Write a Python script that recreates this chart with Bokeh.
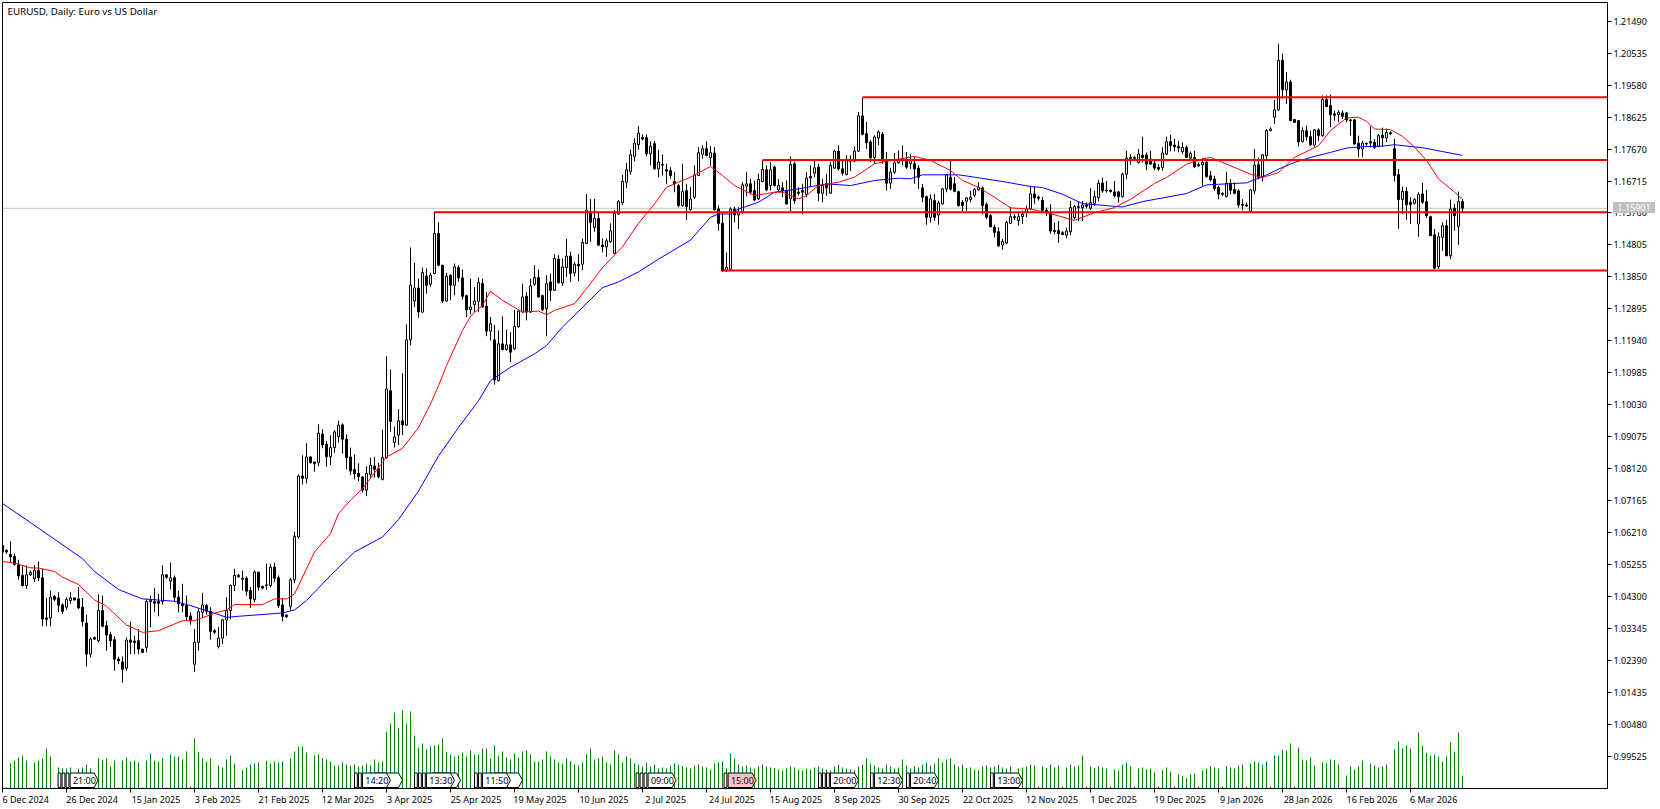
from bokeh.plotting import figure
from bokeh.layouts import column
from bokeh.models import (Div, FixedTicker, Label, LinearAxis,
                          PrintfTickFormatter, Range1d)
from bokeh.core.properties import value
from bokeh.embed import file_html
from bokeh.resources import INLINE

FONT = "Noto Sans"

# ---- data -----------------------------------------------------------------
direction = ("BBBBBBWWWB" "BBWBBBWWBB" "BBWBWBBBBB" "BWBBBBWWBB" "WBWBBBBBWW" "WBBBWWWWWB"
             "BBBWBBBWBB" "BBWWWBWBBW" "BBWWWBBBBB" "BWWBBWWBWW" "BWWWBWBWWB" "BWBWBBBWWW"
             "BBWBWBWBWW" "WBWWBBWBWB" "WWBWBWWBWB" "BWWWWWWWWW" "BBWBWBBBBB" "WBWWWWBWBB"
             "BWWBWWWBBW" "WBWBWBBWBB" "BWBWBWBWWB" "BWWWWBBBWW" "BBWWWWBWBB" "BBWBWWWBBB"
             "BWWWWBBBBB" "WWWBWWWWBB" "BBBBBBWWWW" "WBWWWBBBBB" "WWBBWBBBBB" "WWBBBWBWBB"
             "WBBBBBWBBB" "BBWWBWWWWW" "BWBBBWBBWB" "WBBBWBBBBB" "WBBBWBWBBB" "WBBWWBBBBW"
             "WBWBWB")

body_tops = [
 1.0583,1.0568,1.0556,1.0550,1.0526,1.0493,1.0495,1.0502,1.0508,1.0508,
 1.0486,1.0366,1.0428,1.0430,1.0426,1.0405,1.0421,1.0426,1.0426,1.0423,
 1.0398,1.0351,1.0303,1.0307,1.0388,1.0388,1.0343,1.0316,1.0301,1.0243,
 1.0235,1.0300,1.0300,1.0297,1.0298,1.0273,1.0415,1.0419,1.0415,1.0415,
 1.0495,1.0495,1.0486,1.0486,1.0428,1.0408,1.0403,1.0372,1.0293,1.0385,
 1.0405,1.0403,1.0386,1.0328,1.0306,1.0360,1.0388,1.0463,1.0493,1.0493,
 1.0485,1.0485,1.0448,1.0503,1.0503,1.0460,1.0465,1.0518,1.0518,1.0486,
 1.0405,1.0375,1.0480,1.0610,1.0790,1.0790,1.0847,1.0847,1.0832,1.0918,
 1.0915,1.0885,1.0875,1.0922,1.0942,1.0943,1.0900,1.0847,1.0810,1.0798,
 1.0787,1.0798,1.0822,1.0820,1.0812,1.0845,1.1050,1.1045,1.0907,1.0955,
 1.0955,1.1197,1.1360,1.1352,1.1352,1.1398,1.1387,1.1390,1.1515,1.1515,
 1.1420,1.1387,1.1390,1.1415,1.1413,1.1382,1.1329,1.1295,1.1313,1.1368,
 1.1365,1.1297,1.1245,1.1197,1.1185,1.1185,1.1182,1.1182,1.1237,1.1283,
 1.1325,1.1327,1.1358,1.1383,1.1383,1.1329,1.1365,1.1370,1.1440,1.1438,
 1.1415,1.1447,1.1447,1.1423,1.1423,1.1488,1.1585,1.1580,1.1560,1.1560,
 1.1480,1.1493,1.1523,1.1575,1.1610,1.1670,1.1705,1.1750,1.1785,1.1815,
 1.1801,1.1801,1.1775,1.1783,1.1728,1.1721,1.1705,1.1703,1.1670,1.1658,
 1.1640,1.1643,1.1618,1.1690,1.1756,1.1768,1.1768,1.1756,1.1755,1.1588,
 1.1545,1.1413,1.1588,1.1588,1.1578,1.1660,1.1663,1.1663,1.1643,1.1676,
 1.1706,1.1705,1.1705,1.1713,1.1658,1.1651,1.1643,1.1721,1.1723,1.1638,
 1.1643,1.1680,1.1685,1.1711,1.1713,1.1658,1.1663,1.1718,1.1761,1.1761,
 1.1708,1.1736,1.1735,1.1761,1.1866,1.1866,1.1813,1.1788,1.1803,1.1818,
 1.1811,1.1735,1.1698,1.1726,1.1733,1.1738,1.1730,1.1735,1.1723,1.1710,
 1.1651,1.1625,1.1618,1.1613,1.1606,1.1648,1.1690,1.1683,1.1663,1.1640,
 1.1608,1.1621,1.1623,1.1646,1.1653,1.1651,1.1601,1.1568,1.1533,1.1520,
 1.1491,1.1548,1.1565,1.1565,1.1565,1.1573,1.1588,1.1633,1.1633,1.1623,
 1.1614,1.1584,1.1575,1.1524,1.1524,1.1517,1.1522,1.1592,1.1595,1.1595,
 1.1600,1.1600,1.1607,1.1625,1.1665,1.1665,1.1644,1.1644,1.1639,1.1639,
 1.1692,1.1740,1.1742,1.1742,1.1752,1.1749,1.1749,1.1737,1.1724,1.1712,
 1.1755,1.1789,1.1789,1.1779,1.1775,1.1772,1.1772,1.1754,1.1742,1.1720,
 1.1727,1.1727,1.1687,1.1677,1.1652,1.1635,1.1665,1.1665,1.1646,1.1642,
 1.1602,1.1600,1.1645,1.1719,1.1720,1.1750,1.1822,1.1827,1.1884,1.2032,
 1.2032,1.1967,1.1967,1.1855,1.1852,1.1822,1.1822,1.1804,1.1824,1.1824,
 1.1915,1.1915,1.1897,1.1872,1.1877,1.1875,1.1875,1.1854,1.1854,1.1784,
 1.1785,1.1784,1.1789,1.1787,1.1807,1.1808,1.1816,1.1816,1.1768,1.1691,
 1.1640,1.1640,1.1608,1.1616,1.1631,1.1633,1.1610,1.1565,1.1511,1.1505,
 1.1538,1.1538,1.1588,1.1590,1.1610,1.1610]

body_bottoms = [
 1.0563,1.0563,1.0548,1.0526,1.0492,1.0463,1.0463,1.0495,1.0483,1.0486,
 1.0363,1.0362,1.0366,1.0422,1.0404,1.0386,1.0398,1.0418,1.0420,1.0396,
 1.0356,1.0258,1.0258,1.0303,1.0298,1.0341,1.0315,1.0298,1.0243,1.0238,
 1.0213,1.0216,1.0293,1.0293,1.0273,1.0263,1.0278,1.0415,1.0410,1.0410,
 1.0415,1.0488,1.0476,1.0428,1.0408,1.0403,1.0370,1.0358,1.0228,1.0293,
 1.0383,1.0386,1.0326,1.0323,1.0281,1.0306,1.0360,1.0388,1.0463,1.0489,
 1.0482,1.0446,1.0423,1.0421,1.0458,1.0455,1.0463,1.0463,1.0485,1.0403,
 1.0371,1.0370,1.0401,1.0480,1.0608,1.0783,1.0783,1.0830,1.0827,1.0830,
 1.0883,1.0848,1.0848,1.0875,1.0908,1.0900,1.0845,1.0805,1.0797,1.0788,
 1.0748,1.0748,1.0795,1.0810,1.0788,1.0780,1.0845,1.0953,1.0890,1.0912,
 1.0943,1.0942,1.1197,1.1313,1.1280,1.1280,1.1360,1.1363,1.1395,1.1420,
 1.1313,1.1313,1.1360,1.1360,1.1382,1.1327,1.1287,1.1287,1.1303,1.1312,
 1.1295,1.1223,1.1223,1.1077,1.1075,1.1168,1.1168,1.1160,1.1170,1.1237,
 1.1280,1.1280,1.1280,1.1363,1.1325,1.1287,1.1290,1.1345,1.1345,1.1368,
 1.1367,1.1413,1.1395,1.1397,1.1418,1.1423,1.1485,1.1548,1.1533,1.1480,
 1.1475,1.1475,1.1490,1.1455,1.1573,1.1607,1.1668,1.1700,1.1745,1.1780,
 1.1797,1.1753,1.1753,1.1708,1.1708,1.1719,1.1701,1.1688,1.1663,1.1598,
 1.1598,1.1595,1.1586,1.1623,1.1688,1.1751,1.1748,1.1741,1.1586,1.1545,
 1.1403,1.1403,1.1408,1.1570,1.1570,1.1578,1.1656,1.1638,1.1615,1.1618,
 1.1670,1.1645,1.1658,1.1658,1.1645,1.1643,1.1603,1.1618,1.1613,1.1635,
 1.1638,1.1631,1.1681,1.1695,1.1635,1.1635,1.1651,1.1635,1.1710,1.1708,
 1.1695,1.1691,1.1730,1.1731,1.1761,1.1811,1.1786,1.1741,1.1741,1.1800,
 1.1733,1.1665,1.1665,1.1698,1.1726,1.1733,1.1713,1.1723,1.1708,1.1683,
 1.1623,1.1563,1.1563,1.1563,1.1570,1.1603,1.1648,1.1647,1.1641,1.1598,
 1.1598,1.1611,1.1616,1.1629,1.1645,1.1598,1.1563,1.1535,1.1518,1.1478,
 1.1480,1.1486,1.1545,1.1563,1.1553,1.1565,1.1578,1.1588,1.1621,1.1620,
 1.1584,1.1577,1.1522,1.1521,1.1514,1.1512,1.1510,1.1520,1.1562,1.1592,
 1.1592,1.1596,1.1590,1.1605,1.1622,1.1642,1.1642,1.1640,1.1627,1.1625,
 1.1625,1.1692,1.1739,1.1739,1.1727,1.1742,1.1722,1.1722,1.1710,1.1707,
 1.1712,1.1752,1.1777,1.1774,1.1770,1.1759,1.1742,1.1740,1.1714,1.1717,
 1.1720,1.1684,1.1675,1.1649,1.1632,1.1632,1.1625,1.1644,1.1635,1.1600,
 1.1599,1.1597,1.1580,1.1642,1.1682,1.1685,1.1747,1.1822,1.1862,1.1884,
 1.1944,1.1944,1.1852,1.1847,1.1789,1.1789,1.1804,1.1779,1.1779,1.1807,
 1.1807,1.1894,1.1870,1.1868,1.1870,1.1865,1.1854,1.1852,1.1782,1.1767,
 1.1767,1.1782,1.1785,1.1772,1.1775,1.1801,1.1800,1.1813,1.1688,1.1616,
 1.1616,1.1601,1.1601,1.1605,1.1543,1.1608,1.1568,1.1508,1.1411,1.1416,
 1.1503,1.1448,1.1448,1.1568,1.1536,1.1590]

highs = [
 1.0588,1.0571,1.0595,1.0558,1.0540,1.0522,1.0523,1.0508,1.0523,1.0535,
 1.0513,1.0426,1.0448,1.0435,1.0443,1.0410,1.0428,1.0443,1.0426,1.0458,
 1.0426,1.0376,1.0308,1.0311,1.0436,1.0433,1.0358,1.0323,1.0311,1.0250,
 1.0251,1.0308,1.0355,1.0313,1.0333,1.0273,1.0423,1.0433,1.0456,1.0438,
 1.0523,1.0495,1.0532,1.0493,1.0448,1.0468,1.0433,1.0383,1.0333,1.0393,
 1.0441,1.0408,1.0398,1.0333,1.0338,1.0363,1.0428,1.0466,1.0513,1.0498,
 1.0508,1.0490,1.0458,1.0508,1.0503,1.0463,1.0528,1.0528,1.0531,1.0493,
 1.0426,1.0375,1.0486,1.0624,1.0795,1.0852,1.0888,1.0850,1.0832,1.0945,
 1.0930,1.0895,1.0912,1.0927,1.0955,1.0947,1.0915,1.0875,1.0855,1.0828,
 1.0790,1.0820,1.0845,1.0847,1.0830,1.0928,1.1148,1.1108,1.0938,1.0990,
 1.1097,1.1243,1.1473,1.1427,1.1380,1.1413,1.1410,1.1398,1.1580,1.1548,
 1.1420,1.1397,1.1393,1.1425,1.1420,1.1407,1.1332,1.1380,1.1355,1.1383,
 1.1380,1.1340,1.1265,1.1242,1.1225,1.1267,1.1227,1.1220,1.1287,1.1285,
 1.1365,1.1340,1.1380,1.1420,1.1407,1.1332,1.1390,1.1395,1.1453,1.1450,
 1.1440,1.1498,1.1460,1.1430,1.1453,1.1500,1.1633,1.1618,1.1618,1.1580,
 1.1500,1.1500,1.1545,1.1585,1.1615,1.1690,1.1725,1.1765,1.1800,1.1835,
 1.1811,1.1811,1.1790,1.1791,1.1765,1.1751,1.1723,1.1713,1.1698,1.1663,
 1.1723,1.1663,1.1653,1.1718,1.1773,1.1778,1.1790,1.1776,1.1773,1.1598,
 1.1578,1.1458,1.1593,1.1595,1.1593,1.1668,1.1698,1.1678,1.1673,1.1693,
 1.1733,1.1718,1.1728,1.1718,1.1678,1.1668,1.1673,1.1745,1.1728,1.1653,
 1.1663,1.1698,1.1718,1.1738,1.1723,1.1678,1.1693,1.1728,1.1765,1.1778,
 1.1733,1.1748,1.1748,1.1775,1.1878,1.1921,1.1848,1.1793,1.1808,1.1823,
 1.1818,1.1758,1.1711,1.1755,1.1763,1.1778,1.1758,1.1753,1.1743,1.1718,
 1.1663,1.1628,1.1631,1.1633,1.1613,1.1651,1.1693,1.1731,1.1683,1.1643,
 1.1615,1.1623,1.1643,1.1651,1.1668,1.1655,1.1608,1.1573,1.1541,1.1533,
 1.1498,1.1553,1.1593,1.1573,1.1578,1.1583,1.1598,1.1658,1.1655,1.1628,
 1.1624,1.1592,1.1602,1.1547,1.1552,1.1522,1.1532,1.1612,1.1600,1.1610,
 1.1612,1.1607,1.1650,1.1642,1.1675,1.1682,1.1672,1.1647,1.1672,1.1642,
 1.1697,1.1762,1.1752,1.1747,1.1767,1.1804,1.1757,1.1762,1.1737,1.1722,
 1.1772,1.1804,1.1810,1.1797,1.1792,1.1787,1.1777,1.1760,1.1762,1.1727,
 1.1740,1.1737,1.1702,1.1687,1.1657,1.1637,1.1699,1.1677,1.1667,1.1647,
 1.1617,1.1607,1.1647,1.1767,1.1742,1.1752,1.1827,1.1832,1.1914,1.2082,
 1.2052,1.1997,1.1974,1.1857,1.1852,1.1832,1.1837,1.1822,1.1827,1.1829,
 1.1927,1.1927,1.1930,1.1882,1.1884,1.1882,1.1877,1.1857,1.1857,1.1807,
 1.1792,1.1787,1.1835,1.1797,1.1812,1.1831,1.1828,1.1820,1.1798,1.1708,
 1.1655,1.1653,1.1623,1.1621,1.1638,1.1666,1.1645,1.1568,1.1528,1.1518,
 1.1548,1.1556,1.1616,1.1603,1.1640,1.1618]

lows = [
 1.0558,1.0558,1.0533,1.0523,1.0480,1.0460,1.0453,1.0492,1.0473,1.0476,
 1.0341,1.0341,1.0341,1.0416,1.0383,1.0378,1.0390,1.0408,1.0418,1.0393,
 1.0341,1.0221,1.0248,1.0300,1.0293,1.0338,1.0268,1.0280,1.0208,1.0228,
 1.0173,1.0208,1.0258,1.0258,1.0258,1.0263,1.0263,1.0338,1.0383,1.0371,
 1.0406,1.0483,1.0451,1.0416,1.0383,1.0383,1.0358,1.0346,1.0205,1.0268,
 1.0368,1.0376,1.0301,1.0318,1.0275,1.0288,1.0313,1.0363,1.0446,1.0486,
 1.0448,1.0433,1.0396,1.0413,1.0448,1.0452,1.0450,1.0458,1.0473,1.0396,
 1.0356,1.0366,1.0388,1.0470,1.0603,1.0765,1.0768,1.0827,1.0803,1.0820,
 1.0873,1.0818,1.0823,1.0860,1.0890,1.0857,1.0810,1.0793,1.0780,1.0775,
 1.0740,1.0730,1.0785,1.0785,1.0783,1.0777,1.0842,1.0923,1.0875,1.0883,
 1.0912,1.0940,1.1180,1.1295,1.1263,1.1277,1.1335,1.1355,1.1393,1.1417,
 1.1307,1.1310,1.1315,1.1330,1.1370,1.1317,1.1265,1.1273,1.1280,1.1280,
 1.1293,1.1208,1.1195,1.1063,1.1073,1.1165,1.1165,1.1130,1.1167,1.1233,
 1.1277,1.1255,1.1277,1.1358,1.1323,1.1283,1.1208,1.1313,1.1343,1.1365,
 1.1358,1.1385,1.1370,1.1387,1.1373,1.1405,1.1483,1.1490,1.1520,1.1477,
 1.1458,1.1445,1.1488,1.1453,1.1570,1.1600,1.1650,1.1690,1.1730,1.1765,
 1.1793,1.1745,1.1718,1.1705,1.1683,1.1688,1.1663,1.1678,1.1638,1.1593,
 1.1595,1.1555,1.1583,1.1618,1.1686,1.1738,1.1745,1.1718,1.1583,1.1523,
 1.1401,1.1401,1.1403,1.1548,1.1528,1.1573,1.1626,1.1631,1.1611,1.1615,
 1.1668,1.1641,1.1643,1.1655,1.1641,1.1623,1.1601,1.1581,1.1603,1.1628,
 1.1573,1.1623,1.1653,1.1683,1.1611,1.1608,1.1628,1.1633,1.1708,1.1703,
 1.1688,1.1688,1.1701,1.1728,1.1758,1.1808,1.1768,1.1728,1.1723,1.1778,
 1.1723,1.1643,1.1648,1.1693,1.1723,1.1718,1.1708,1.1708,1.1663,1.1648,
 1.1608,1.1541,1.1548,1.1553,1.1541,1.1601,1.1638,1.1643,1.1638,1.1595,
 1.1581,1.1583,1.1608,1.1623,1.1643,1.1573,1.1558,1.1533,1.1503,1.1475,
 1.1466,1.1483,1.1543,1.1555,1.1538,1.1543,1.1563,1.1585,1.1603,1.1613,
 1.1582,1.1567,1.1514,1.1512,1.1487,1.1510,1.1500,1.1510,1.1557,1.1552,
 1.1552,1.1590,1.1585,1.1597,1.1612,1.1637,1.1637,1.1637,1.1622,1.1607,
 1.1622,1.1677,1.1720,1.1732,1.1724,1.1727,1.1704,1.1720,1.1704,1.1702,
 1.1702,1.1749,1.1760,1.1760,1.1757,1.1752,1.1740,1.1737,1.1710,1.1714,
 1.1657,1.1682,1.1670,1.1642,1.1617,1.1627,1.1622,1.1632,1.1632,1.1592,
 1.1584,1.1594,1.1577,1.1632,1.1677,1.1670,1.1737,1.1820,1.1842,1.1882,
 1.1917,1.1902,1.1850,1.1847,1.1775,1.1787,1.1792,1.1777,1.1774,1.1792,
 1.1804,1.1892,1.1832,1.1852,1.1847,1.1857,1.1847,1.1807,1.1780,1.1742,
 1.1742,1.1777,1.1772,1.1767,1.1772,1.1773,1.1788,1.1808,1.1670,1.1529,
 1.1573,1.1556,1.1543,1.1601,1.1505,1.1603,1.1561,1.1508,1.1408,1.1408,
 1.1463,1.1448,1.1438,1.1523,1.1481,1.1578]

tick_volume = [
 0,1,25,28,31,33,28,1,26,28, 30,40,32,1,21,20,20,21,1,20,
 21,24,20,1,30,28,30,22,28,1, 28,31,27,28,26,1,28,35,28,27,
 30,1,34,32,32,29,37,2,50,36, 30,27,30,1,23,21,29,33,25,1,
 18,21,24,25,26,1,28,25,27,26, 27,1,30,37,42,42,36,1,33,34,
 30,29,27,23,23,26,24,23,24,22, 23,25,23,29,26,27,57,65,76,60,
 78,65,77,53,41,45,39,42,43,44, 50,36,34,32,33,36,32,38,34,34,
 40,40,30,43,33,37,31,29,35,31, 37,38,34,27,27,29,37,32,29,26,
 25,30,27,24,23,26,34,40,29,30, 32,26,24,38,34,26,32,30,25,24,
 22,26,22,24,20,21,20,23,25,24, 22,21,20,23,24,22,21,19,25,26,
 27,20,35,30,24,22,23,21,20,22, 24,22,21,20,19,18,20,22,21,19,
 18,20,19,21,22,20,19,18,22,24, 21,20,19,18,22,24,30,25,23,21,
 20,24,22,20,21,29,23,20,22,21, 24,26,23,25,30,26,29,30,24,22,
 24,20,21,19,18,22,23,21,22,24, 21,20,22,2,20,21,22,24,23,2,
 22,20,24,21,23,2,21,24,22,23, 33,2,22,20,22,21,20,2,19,18,
 24,26,22,2,20,21,19,20,16,2, 18,21,17,2,14,12,10,14,15,2,
 18,20,22,21,20,2,22,21,20,23, 24,2,25,27,26,24,27,2,33,33,
 39,38,45,2,41,29,28,31,23,1, 26,25,29,28,24,1,13,22,19,22,
 28,1,25,23,21,22,24,1,39,47, 40,43,40,1,56,43,36,33,34,32,
 27,32,46,37,56,13]

red_bars = [0,3,7,9,13,15,19,23,26,31,35,39,43,45,48,53,56,58,65,68,71,73,75,78,82,84,87,90,94,96,
            100,104,107,109,111,115,117,120,122,125,130,134,136,138,143,147,150,155,159,163,166,168,
            172,177,180,183,188,193,195,199,201,204,209,213,218,222,228,232,237,240,244,248,252,257,
            262,268,273,278,282,288,291,296,300,302,307,312,315,319,323,329,332,336,339,341,343,347,
            350,353,356,359,363,365]
red_ma = [1.0535,1.0530,1.0516,1.0515,1.0505,1.0488,1.0466,1.0420,1.0401,1.0345,1.0323,1.0328,1.0348,1.0358,
          1.0358,1.0380,1.0390,1.0406,1.0406,1.0423,1.0423,1.0438,1.0488,1.0563,1.0618,1.0678,1.0718,1.0752,
          1.0815,1.0847,1.0873,1.0935,1.1005,1.1060,1.1120,1.1225,1.1267,1.1300,1.1342,1.1315,1.1280,1.1283,
          1.1272,1.1285,1.1305,1.1365,1.1413,1.1475,1.1545,1.1603,1.1653,1.1663,1.1683,1.1715,1.1688,1.1658,
          1.1628,1.1638,1.1638,1.1618,1.1628,1.1658,1.1668,1.1683,1.1723,1.1733,1.1745,1.1733,1.1703,1.1673,
          1.1653,1.1623,1.1591,1.1588,1.1574,1.1554,1.1577,1.1592,1.1617,1.1664,1.1682,1.1722,1.1737,1.1742,
          1.1717,1.1692,1.1682,1.1697,1.1742,1.1777,1.1822,1.1860,1.1862,1.1850,1.1827,1.1825,1.1805,1.1773,
          1.1733,1.1678,1.1638,1.1618]

blue_bars = [0,7,14,20,23,29,35,43,47,53,56,59,70,73,76,82,88,95,99,104,109,114,119,122,127,133,136,140,150,
             154,159,164,172,177,179,182,184,189,193,199,206,212,218,224,227,230,239,243,251,257,260,265,270,
             280,285,296,301,311,315,319,323,327,332,336,340,345,348,355,365]
blue_ma = [1.0708,1.0651,1.0593,1.0543,1.0505,1.0451,1.0423,1.0416,1.0403,1.0380,1.0368,1.0371,1.0381,1.0390,
           1.0418,1.0493,1.0563,1.0608,1.0660,1.0745,1.0850,1.0935,1.1015,1.1075,1.1115,1.1155,1.1180,1.1235,
           1.1353,1.1370,1.1400,1.1438,1.1495,1.1563,1.1573,1.1573,1.1588,1.1608,1.1638,1.1648,1.1663,1.1658,
           1.1673,1.1680,1.1678,1.1690,1.1690,1.1683,1.1668,1.1655,1.1652,1.1632,1.1604,1.1594,1.1610,1.1634,
           1.1660,1.1666,1.1684,1.1707,1.1727,1.1742,1.1757,1.1770,1.1774,1.1776,1.1780,1.1771,1.1748]

level_prices = [1.1578, 1.1734, 1.1922, 1.1404]
level_start_bars = [108, 190, 215, 180]
last_price = 1.15901

y_ticks = [1.2149,1.20535,1.1958,1.18625,1.1767,1.16715,1.1576,1.14805,1.1385,1.12895,1.1194,1.10985,
           1.1003,1.09075,1.0812,1.07165,1.0621,1.05255,1.043,1.03345,1.0239,1.01435,1.0048,0.99525]
x_tick_bars = [0,16,32,48,64,80,96,112,128,144,160,176,192,208,224,240,256,272,288,304,320,336,352]
x_tick_labels = ["6 Dec 2024","26 Dec 2024","15 Jan 2025","3 Feb 2025","21 Feb 2025","12 Mar 2025",
                 "3 Apr 2025","25 Apr 2025","19 May 2025","10 Jun 2025","2 Jul 2025","24 Jul 2025",
                 "15 Aug 2025","8 Sep 2025","30 Sep 2025","22 Oct 2025","12 Nov 2025","1 Dec 2025",
                 "19 Dec 2025","9 Jan 2026","28 Jan 2026","16 Feb 2026","6 Mar 2026"]

event_bars = [16.9, 90, 106, 120, 161.4, 181.4, 207, 218, 227, 248]
event_labels = ["21:00","14:20","13:30","11:50","09:00","15:00","20:00","12:30","20:40","13:00"]
event_stubs = [3, 2, 3, 2, 3, 1, 3, 1, 1, 1]
event_tails = [0, 3, 1.5, 3, 0, 0, 0, 0, 0, 0]
event_fill = ["white"]*5 + ["#ffc0cb"] + ["white"]*4

# ---- layout ---------------------------------------------------------------
W, H = 1660, 809
LEFT, RIGHT, TOP, BOTTOM = 2, 1607, 2, 788
PX_PER_BAR = 4
PX_PER_PRICE = 3347.0
x_start = 0.0
x_end = x_start + (RIGHT - LEFT) / PX_PER_BAR
y_end = 1.2149 + (20.7 - TOP) / PX_PER_PRICE
y_start = 1.2149 - (BOTTOM - 20.7) / PX_PER_PRICE

p = figure(width=W, height=H, output_backend="svg", toolbar_location=None,
           x_range=Range1d(x_start, x_end), y_range=Range1d(y_start, y_end),
           x_axis_location="below", y_axis_location="right",
           min_border_left=LEFT, min_border_right=W-RIGHT, min_border_top=TOP, min_border_bottom=H-BOTTOM,
           background_fill_color="white", border_fill_color="white",
           outline_line_color="black", outline_line_width=1,
           margin=(0, 0, 0, 0))
p.grid.visible = False
p.extra_y_ranges = {"vol": Range1d(0, BOTTOM - TOP)}

ax = p.yaxis[0]
ax.ticker = FixedTicker(ticks=y_ticks)
ax.formatter = PrintfTickFormatter(format="%.5f")
ax.major_tick_out = 4; ax.major_tick_in = 0; ax.minor_tick_out = 0; ax.minor_tick_in = 0
ax.major_label_standoff = 2
ax.major_label_text_font = FONT; ax.major_label_text_font_size = "9px"; ax.major_label_text_color = "black"
ax.axis_line_color = "black"; ax.major_tick_line_color = "black"

# tick marks on the time axis
bx = p.xaxis[0]
bx.ticker = FixedTicker(ticks=x_tick_bars)
bx.major_label_overrides = {t: "" for t in x_tick_bars}
bx.major_tick_out = 4; bx.major_tick_in = 0; bx.minor_tick_out = 0; bx.minor_tick_in = 0
bx.axis_line_color = "black"; bx.major_tick_line_color = "black"
bx.major_label_text_font_size = "1px"; bx.major_label_standoff = 0

# date texts: a second axis whose label centres sit half a label to the right of each tick
date_centres = [round(t + len(s) * 0.58, 2) for t, s in zip(x_tick_bars, x_tick_labels)]
dates = LinearAxis(ticker=FixedTicker(ticks=date_centres),
                   major_label_overrides=dict(zip(date_centres, x_tick_labels)),
                   major_tick_out=0, major_tick_in=0, minor_tick_out=0, minor_tick_in=0,
                   axis_line_color=None, major_tick_line_color=None, major_label_standoff=0,
                   major_label_text_font=FONT, major_label_text_font_size="9px", major_label_text_color="black")
p.add_layout(dates, "below")

bars = list(range(len(highs)))

# price line (behind the candles)
p.line([x_start, x_end], [last_price, last_price], line_color="#c0c0c0", line_width=1)

# volume
p.segment(bars, [0]*len(bars), bars, tick_volume, y_range_name="vol", line_color="#008000", line_width=1)

# candles
p.segment(bars, lows, bars, highs, line_color="black", line_width=1)
fills = ["white" if d == "W" else "black" for d in direction]
p.vbar(x=bars, width=0.5, top=body_tops, bottom=body_bottoms, fill_color=fills, line_color="black", line_width=1)

# moving averages
p.line(blue_bars, blue_ma, line_color="#0000ff", line_width=1)
p.line(red_bars, red_ma, line_color="#ff0000", line_width=1)

# horizontal levels
p.segment(level_start_bars, level_prices, [x_end]*len(level_prices), level_prices, line_color="#ff0000", line_width=2)

# event tags at the foot of the chart
tag_top = 1.2149 - (772.5 - 20.7) / PX_PER_PRICE
tag_bot = 1.2149 - (787.0 - 20.7) / PX_PER_PRICE
tag_w = 6.0
for s, n, tail, fill in zip(event_bars, event_stubs, event_tails, event_fill):
    for k in range(n, 0, -1):
        p.quad(left=s-k, right=s-k+0.7, top=tag_top, bottom=tag_bot, fill_color="white", line_color="black", line_width=1)
    if tail:
        st = s + tail
        p.patch([st, st+tag_w, st+tag_w+1, st+tag_w, st], [tag_top, tag_top, (tag_top+tag_bot)/2, tag_bot, tag_bot],
                fill_color="white", line_color="black", line_width=1)
    p.patch([s, s+tag_w, s+tag_w+1, s+tag_w, s], [tag_top, tag_top, (tag_top+tag_bot)/2, tag_bot, tag_bot],
            fill_color=fill, line_color="black", line_width=1)
p.text(x=[s+0.7 for s in event_bars], y=[(tag_top+tag_bot)/2]*len(event_bars), text=event_labels,
       text_font=value(FONT), text_font_size="9px", text_color="black",
       text_align="left", text_baseline="middle")

# title (screen units are counted from the frame's lower left corner)
p.add_layout(Label(x=5, y=BOTTOM-11, x_units="screen", y_units="screen", text="EURUSD, Daily:  Euro vs US Dollar",
                   text_font=FONT, text_font_size="9.8px", text_color="black", text_baseline="middle"))

# last-price box on the axis
box = Div(text="%.5f" % last_price, width=42, height=11,
          styles={"position": "absolute", "left": "1608px", "top": "197px", "background-color": "#c0c0c0",
                  "color": "white", "font-family": FONT, "font-size": "9px", "line-height": "11px",
                  "text-align": "center", "z-index": "10"})

open("out.html", "w").write(file_html(column(p, box, spacing=0), INLINE))
